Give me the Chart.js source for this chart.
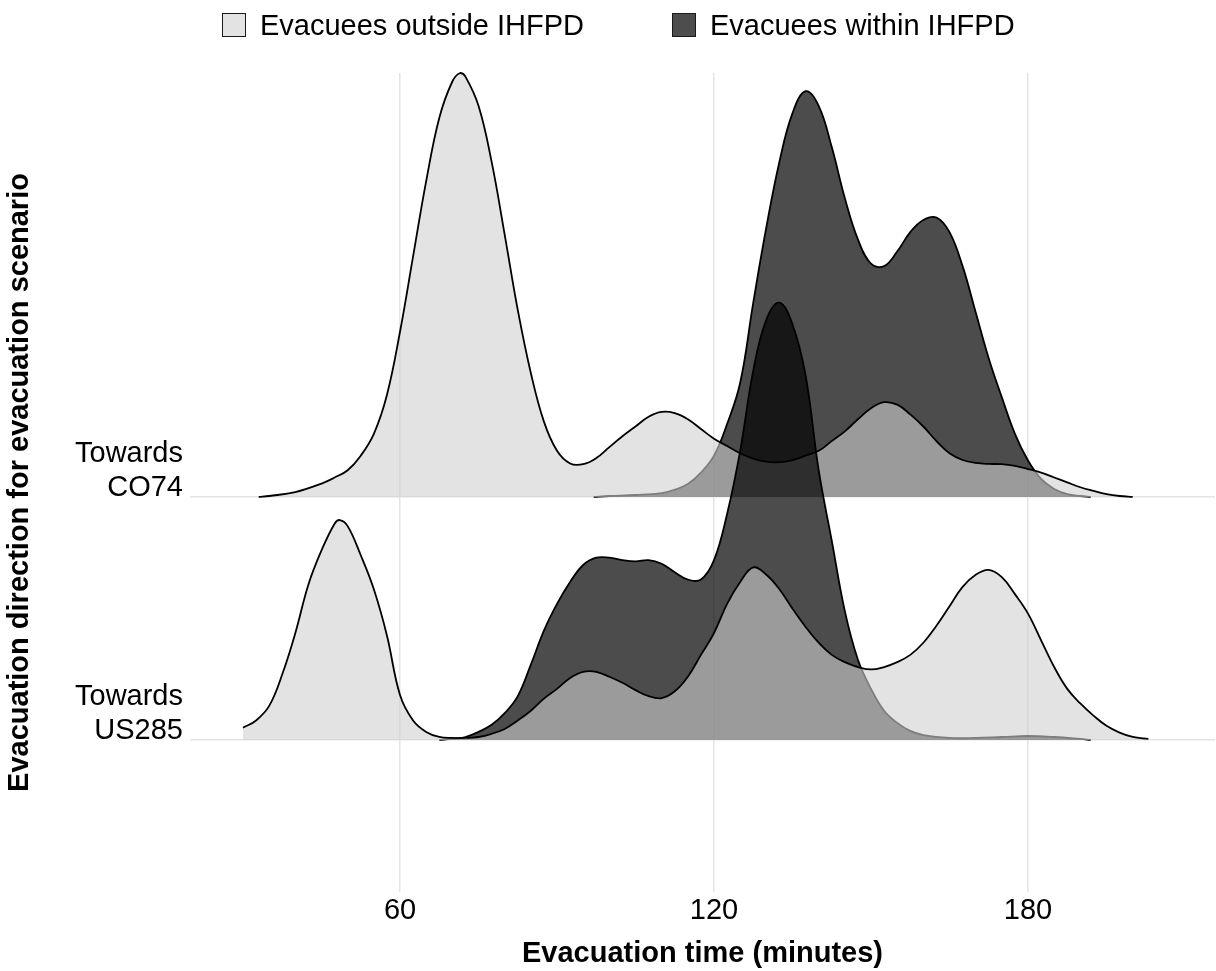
<!DOCTYPE html>
<html lang="en">
<head>
<meta charset="utf-8">
<title>Evacuation time by direction</title>
<script src="https://cdn.jsdelivr.net/npm/chart.js@4.4.1/dist/chart.umd.min.js"></script>
<style>
    body { margin: 0; background: #fff; font-family: "Liberation Sans", Arial, sans-serif; }
    #quadro { position: relative; width: 1216px; height: 971px; }
    .legenda-item { position: absolute; top: 8px; height: 34px; line-height: 34px; display: flex; align-items: center; font-size: 29px; color: #000; white-space: nowrap; }
    .caixa { width: 24px; height: 24px; border: 1px solid #1a1a1a; box-sizing: border-box; margin-right: 14px; }
</style>
</head>
<body>
<div id="quadro">
    <canvas id="graficoRidges" width="1216" height="971"></canvas>
    <div class="legenda-item" style="left:222px"><span class="caixa" style="background:#e3e3e3"></span>Evacuees outside IHFPD</div>
    <div class="legenda-item" style="left:672px"><span class="caixa" style="background:#4d4d4d"></span>Evacuees within IHFPD</div>
</div>
<script>
// Categorias (linha de base 0 = US285, 1 = CO74)
const rotulosDirecao = [['Towards', 'US285'], ['Towards', 'CO74']];
const ticksTempo = [60, 120, 180];

// Towards CO74 - evacuados fora do IHFPD (altura da crista, em linhas)
const temposCo74Fora = [33, 35, 40, 45, 47.5, 50, 52.5, 55, 57.5, 60, 62.5, 65, 67.5, 70, 71.5, 72.5, 75, 77.5, 80, 82.5, 85, 87.5, 90, 92.5, 95, 97.5, 100, 102.5, 105, 107.5, 110, 112.5, 115, 117.5, 120, 122.5, 125, 127.5, 130, 132.5, 135, 137.5, 140, 142.5, 145, 147.5, 150, 152.5, 155, 157.5, 160, 162.5, 165, 167.5, 170, 172.5, 175, 177.5, 180, 182.5, 185, 187.5, 190, 192.5, 195, 197.5, 200];
const alturasCo74Fora = [0, 0.004, 0.02, 0.055, 0.08, 0.11, 0.17, 0.26, 0.42, 0.68, 0.99, 1.30, 1.56, 1.71, 1.745, 1.73, 1.61, 1.38, 1.08, 0.77, 0.51, 0.31, 0.19, 0.138, 0.135, 0.16, 0.205, 0.25, 0.29, 0.33, 0.35, 0.345, 0.32, 0.28, 0.24, 0.21, 0.18, 0.158, 0.145, 0.143, 0.152, 0.17, 0.19, 0.23, 0.27, 0.32, 0.365, 0.39, 0.38, 0.34, 0.29, 0.23, 0.18, 0.152, 0.14, 0.136, 0.135, 0.128, 0.115, 0.10, 0.08, 0.06, 0.04, 0.025, 0.012, 0.004, 0];

// Towards CO74 - evacuados dentro do IHFPD
const temposCo74Dentro = [97, 100, 105, 110, 112.5, 115, 117.5, 120, 122.5, 125, 127.5, 130, 132.5, 135, 137.5, 140, 142.5, 145, 147.5, 150, 152.5, 155, 157.5, 160, 162.5, 165, 167.5, 170, 172.5, 175, 177.5, 180, 182.5, 185, 187.5, 190, 192];
const alturasCo74Dentro = [0, 0.004, 0.008, 0.016, 0.03, 0.053, 0.10, 0.17, 0.30, 0.47, 0.80, 1.11, 1.38, 1.58, 1.67, 1.61, 1.44, 1.23, 1.06, 0.96, 0.95, 1.01, 1.09, 1.14, 1.15, 1.09, 0.95, 0.76, 0.57, 0.41, 0.26, 0.15, 0.074, 0.033, 0.012, 0.004, 0];

// Towards US285 - evacuados fora do IHFPD
const temposUs285Fora = [30, 32.5, 35, 37.5, 40, 42.5, 45, 47.5, 48.5, 50, 52.5, 55, 57.5, 60, 62.5, 65, 67.5, 70, 72.5, 75, 77.5, 80, 82.5, 85, 87.5, 90, 92.5, 95, 97.5, 100, 102.5, 105, 107.5, 110, 112.5, 115, 117.5, 120, 122.5, 125, 127.5, 130, 132.5, 135, 137.5, 140, 142.5, 145, 147.5, 150, 152.5, 155, 157.5, 160, 162.5, 165, 167.5, 170, 172.5, 175, 177.5, 180, 182.5, 185, 187.5, 190, 192.5, 195, 197.5, 200, 203];
const alturasUs285Fora = [0.05, 0.08, 0.14, 0.27, 0.44, 0.64, 0.78, 0.89, 0.905, 0.88, 0.76, 0.62, 0.43, 0.185, 0.08, 0.033, 0.012, 0.008, 0.008, 0.012, 0.025, 0.045, 0.08, 0.12, 0.17, 0.21, 0.255, 0.28, 0.28, 0.26, 0.235, 0.205, 0.18, 0.172, 0.2, 0.26, 0.35, 0.44, 0.56, 0.65, 0.71, 0.68, 0.62, 0.54, 0.465, 0.40, 0.35, 0.32, 0.30, 0.29, 0.30, 0.32, 0.35, 0.40, 0.47, 0.55, 0.63, 0.68, 0.70, 0.67, 0.60, 0.52, 0.41, 0.30, 0.21, 0.15, 0.10, 0.058, 0.03, 0.012, 0.004];

// Towards US285 - evacuados dentro do IHFPD
const temposUs285Dentro = [67.5, 70, 72.5, 75, 77.5, 80, 82.5, 85, 87.5, 90, 92.5, 95, 97.5, 100, 102.5, 105, 107.5, 110, 112.5, 115, 117.5, 120, 122.5, 125, 127.5, 130, 132.5, 135, 137.5, 140, 142.5, 145, 147.5, 150, 152.5, 155, 157.5, 160, 165, 170, 175, 180, 185, 190, 192];
const alturasUs285Dentro = [0, 0.004, 0.012, 0.033, 0.062, 0.11, 0.18, 0.31, 0.45, 0.56, 0.65, 0.72, 0.75, 0.75, 0.74, 0.735, 0.74, 0.725, 0.69, 0.66, 0.66, 0.74, 0.93, 1.19, 1.52, 1.73, 1.80, 1.71, 1.50, 1.11, 0.82, 0.53, 0.33, 0.21, 0.12, 0.07, 0.037, 0.02, 0.008, 0.008, 0.012, 0.016, 0.012, 0.004, 0];

const corFora = 'rgba(208, 208, 208, 0.6)';
const corDentro = 'rgba(0, 0, 0, 0.7)';
const fonte = '"Liberation Sans", Arial, sans-serif';

// Converte tempos + alturas em pontos sobre a linha de base da categoria
function montarSerie(tempos, alturas, base) {
    return tempos.map((t, i) => ({ x: t, y: base + alturas[i] }));
}

function criarCrista(rotulo, tempos, alturas, base, cor) {
    return {
        label: rotulo,
        data: montarSerie(tempos, alturas, base),
        borderColor: '#000',
        borderWidth: 1.8,
        backgroundColor: cor,
        fill: { value: base },
        pointRadius: 0,
        tension: 0.4,
        clip: false
    };
}

// O índice 0 é desenhado por último (em cima)
const datasets = [
    criarCrista('Evacuees outside IHFPD', temposUs285Fora, alturasUs285Fora, 0, corFora),
    criarCrista('Evacuees within IHFPD', temposUs285Dentro, alturasUs285Dentro, 0, corDentro),
    criarCrista('Evacuees outside IHFPD', temposCo74Fora, alturasCo74Fora, 1, corFora),
    criarCrista('Evacuees within IHFPD', temposCo74Dentro, alturasCo74Dentro, 1, corDentro)
];

const ctx = document.getElementById('graficoRidges');
new Chart(ctx.getContext('2d'), {
    type: 'line',
    data: { datasets: datasets },
    options: {
        responsive: false,
        animation: false,
        events: [],
        layout: { padding: { top: 73, right: 1, left: 0, bottom: 0 } },
        plugins: {
            legend: { display: false },
            tooltip: { enabled: false }
        },
        scales: {
            x: {
                type: 'linear',
                min: 19.87,
                max: 215.73,
                afterBuildTicks: (scale) => { scale.ticks = ticksTempo.map(v => ({ value: v })); },
                afterFit: (scale) => { scale.height = 79; },
                grid: { color: '#e4e4e4', lineWidth: 1.5, drawTicks: false },
                border: { display: false },
                ticks: { color: '#000', padding: 2, font: { family: fonte, size: 29 } },
                title: {
                    display: true,
                    text: 'Evacuation time (minutes)',
                    color: '#000',
                    padding: { top: 0, bottom: 0 },
                    font: { family: fonte, size: 29, weight: 'bold' }
                }
            },
            y: {
                type: 'linear',
                min: -0.626,
                max: 2.745,
                afterBuildTicks: (scale) => { scale.ticks = [{ value: 0 }, { value: 1 }]; },
                afterFit: (scale) => { scale.width = 190; },
                grid: { color: '#e4e4e4', lineWidth: 1.5, drawTicks: false },
                border: { display: false },
                ticks: {
                    color: '#000',
                    padding: 7,
                    labelOffset: -26,
                    font: { family: fonte, size: 29, lineHeight: 1.17 },
                    callback: (valor) => rotulosDirecao[valor]
                },
                title: {
                    display: true,
                    text: 'Evacuation direction for evacuation scenario',
                    color: '#000',
                    padding: { top: 3, bottom: 0 },
                    font: { family: fonte, size: 29, weight: 'bold' }
                }
            }
        }
    }
});
</script>
</body>
</html>
